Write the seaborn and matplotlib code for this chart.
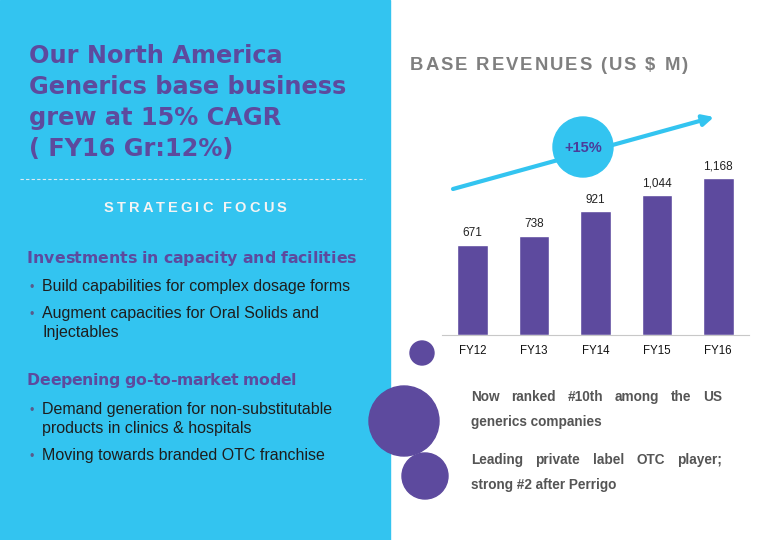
import matplotlib
matplotlib.use('Agg')
import matplotlib.pyplot as plt
from matplotlib.patches import Rectangle, Circle
import seaborn as sns

years = ['FY12', 'FY13', 'FY14', 'FY15', 'FY16']
revenues = [671, 738, 921, 1044, 1168]
cagr_label = '+15%'

headline = ['Our North America', 'Generics base business', 'grew at 15% CAGR', '( FY16 Gr:12%)']
bullets_1 = [['Build capabilities for complex dosage forms'],
             ['Augment capacities for Oral Solids and', 'Injectables']]
bullets_2 = [['Demand generation for non-substitutable', 'products in clinics & hospitals'],
             ['Moving towards branded OTC franchise']]
notes = [['Now ranked #10th among the US', 'generics companies'],
         ['Leading private label OTC player;', 'strong #2 after Perrigo']]

CYAN = '#33C4F0'
PURPLE = '#5D4A9E'
GREY = '#7F7F7F'

sns.set_style('white')
plt.rcParams['font.family'] = ['Liberation Sans', 'DejaVu Sans']

fig = plt.figure(figsize=(7.8, 5.4), dpi=100)
bg = fig.add_axes([0, 0, 1, 1])
bg.set_xlim(0, 780)
bg.set_ylim(540, 0)
bg.axis('off')
renderer = fig.canvas.get_renderer()


def text_width(s, **kw):
	t = bg.text(0, 0, s, **kw)
	w = t.get_window_extent(renderer).width
	t.remove()
	return w


def tracked(x0, x1, y, s, **kw):
	# spread the characters of s evenly between x0 and x1
	space = text_width('x x', **kw) - text_width('xx', **kw)
	widths = [space if c == ' ' else text_width(c, **kw) for c in s]
	gap = (x1 - x0 - sum(widths)) / (len(s) - 1)
	x = x0
	for c, w in zip(s, widths):
		if c != ' ':
			bg.text(x, y, c, ha='left', va='baseline', **kw)
		x += w + gap


def justified(x0, x1, y, s, **kw):
	words = s.split()
	widths = [text_width(w, **kw) for w in words]
	gap = (x1 - x0 - sum(widths)) / (len(words) - 1)
	x = x0
	for word, w in zip(words, widths):
		bg.text(x, y, word, ha='left', va='baseline', **kw)
		x += w + gap


# left panel
bg.add_patch(Rectangle((0, 0), 390, 540, color=CYAN, zorder=0))
for i, line in enumerate(headline):
	bg.text(29, 63 + i * 31, line, color=PURPLE, fontsize=17.3, fontweight='bold',
		family='DejaVu Sans', va='baseline')
bg.plot([20, 365], [179, 179], color='#DDEBF3', lw=0.8, dashes=(3, 2))
tracked(104, 286, 212.5, 'STRATEGIC FOCUS', color='#F4F4F4', fontsize=10.5, fontweight='bold')

body = dict(color='#1E1E1E', fontsize=11.5, va='baseline')
head = dict(color=PURPLE, fontsize=11.3, fontweight='bold', family='DejaVu Sans')
bullet = dict(color='#5A5A8A', fontsize=9, va='baseline')
tracked(27, 356, 263, 'Investments in capacity and facilities', **head)
y = 291
for item in bullets_1:
	bg.text(29, y, '\u2022', **bullet)
	for line in item:
		bg.text(42, y, line, **body)
		y += 19
	y += 8
tracked(27, 296, 385, 'Deepening go-to-market model', **head)
y = 414
for item in bullets_2:
	bg.text(29, y, '\u2022', **bullet)
	for line in item:
		bg.text(42, y, line, **body)
		y += 19
	y += 8

# decorative circles
for cx, cy, r in [(422, 353, 12), (404, 421, 35), (425, 476, 23)]:
	bg.add_patch(Circle((cx, cy), r, color=PURPLE, zorder=2))

# chart title and growth arrow
tracked(410, 688, 70, 'BASE REVENUES (US $ M)', color=GREY, fontsize=13.3, fontweight='bold')
bg.annotate('', xy=(714, 117), xytext=(453, 189),
	arrowprops=dict(arrowstyle='-|>', color=CYAN, lw=3, mutation_scale=16, shrinkA=0, shrinkB=0))
bg.add_patch(Circle((583, 147), 30, color=CYAN, zorder=3))
bg.text(583, 148, cagr_label, color='#4B3C9A', fontsize=10.5, fontweight='bold',
	ha='center', va='center', zorder=4)

# right notes
note_kw = dict(color='#555555', fontsize=9.8, fontweight='bold')
y = 401
for first, second in notes:
	justified(471, 722, y, first, **note_kw)
	bg.text(471, y + 25, second, va='baseline', **note_kw)
	y += 63

# bar chart
ax = fig.add_axes([442 / 780, (540 - 335) / 540, 307 / 780, 195 / 540])
ax.patch.set_visible(False)
sns.barplot(x=years, y=revenues, color=PURPLE, saturation=1, width=0.5, ax=ax)
ax.bar_label(ax.containers[0], labels=[f'{v:,}' for v in revenues], padding=4,
	fontsize=8.5, color='#222222')
ax.set_xlim(-0.5, 4.5)
ax.set_ylim(0, 1453)
ax.set_yticks([])
ax.set_ylabel('')
for side in ['top', 'right', 'left']:
	ax.spines[side].set_visible(False)
ax.spines['bottom'].set_color('#C8C8C8')
ax.tick_params(axis='x', length=0, pad=7, labelsize=8.3, labelcolor='#111111')

fig.savefig('out.png', dpi=100)
